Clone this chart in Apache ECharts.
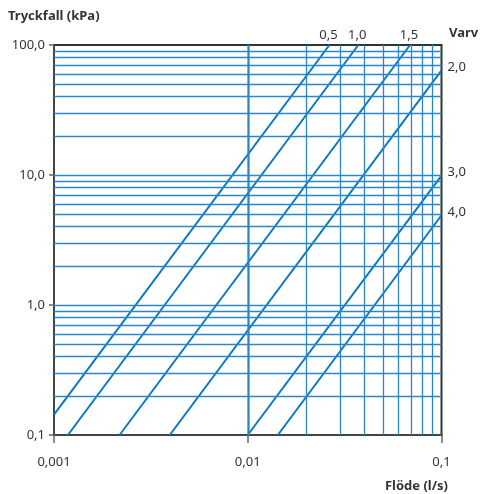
<!DOCTYPE html>
<html><head><meta charset="utf-8">
<script src="https://cdn.jsdelivr.net/npm/echarts@6/dist/echarts.min.js"></script>
<style>html,body{margin:0;padding:0;background:#fff}#c{width:480px;height:494px}</style>
</head><body><div id="c"></div>
<script>
// Curve names (Varv) and endpoints (flow l/s, pressure kPa)
const curveNames = ['0,5', '1,0', '1,5', '2,0', '3,0', '4,0'];
const curveFlow = [
  [0.001, 0.0264],
  [0.00118, 0.0372],
  [0.00218, 0.0688],
  [0.00396, 0.1],
  [0.01, 0.1],
  [0.0143, 0.1]
];
const curvePressure = [
  [0.1435, 100],
  [0.1, 100],
  [0.1, 100],
  [0.1, 63.8],
  [0.1, 9.9],
  [0.1, 4.9]
];
const labelSide = ['top', 'top', 'top', 'right', 'right', 'right'];

const xTickValues = [0.001, 0.01, 0.1];
const xTickLabels = ['0,001', '0,01', '0,1'];
const yTickValues = [0.1, 1, 10, 100];
const yTickLabels = ['0,1', '1,0', '10,0', '100,0'];
const multipliers = [1, 2, 3, 4, 5, 6, 7, 8, 9];

const FONT = 'Noto Sans';
const TXT = '#333';
const BLUE = '#0a78c2';
const GRIDBLUE = '#2a86c9';

function fmt(vals, labels) {
  return function (v) {
    const e = Math.round(Math.log10(v));
    for (let i = 0; i < vals.length; i++) {
      if (Math.round(Math.log10(vals[i])) === e) return labels[i];
    }
    return '';
  };
}

const gridLines = [];
for (let d = 0; d < xTickValues.length - 1; d++) {
  multipliers.forEach(m => { if (d > 0 || m > 1) gridLines.push({ xAxis: +(xTickValues[d] * m).toPrecision(6) }); });
}
for (let d = 0; d < yTickValues.length - 1; d++) {
  multipliers.forEach(m => { if (d > 0 || m > 1) gridLines.push({ yAxis: +(yTickValues[d] * m).toPrecision(6) }); });
}

const series = [{
  type: 'line', data: [], z: 1, silent: true,
  markLine: {
    silent: true, symbol: ['none', 'none'], label: { show: false },
    lineStyle: { color: GRIDBLUE, width: 1.3, type: 'solid' },
    emphasis: { disabled: true },
    animation: false,
    data: gridLines
  }
}];

curveNames.forEach((name, i) => {
  const pts = curveFlow[i].map((q, j) => [q, curvePressure[i][j]]);
  const last = pts.length - 1;
  series.push({
    type: 'line', name: name, z: 3,
    showSymbol: true, symbol: 'circle', symbolSize: 0.1,
    itemStyle: { color: BLUE },
    lineStyle: { color: BLUE, width: 2 },
    data: pts.map((p, j) => j === last ? {
      value: p,
      label: {
        show: true, position: labelSide[i], formatter: name,
        distance: labelSide[i] === 'top' ? 3 : 6,
        offset: labelSide[i] === 'top' ? [-1, 0] : [0, -3],
        color: TXT, fontFamily: FONT, fontSize: 13
      }
    } : { value: p, label: { show: false } }),
    animation: false
  });
});

const chart = echarts.init(document.getElementById('c'), null, { renderer: 'canvas' });
chart.setOption({
  animation: false,
  backgroundColor: '#fff',
  grid: { left: 54, right: 38.5, top: 45, bottom: 59, show: true, borderColor: '#333', borderWidth: 2, backgroundColor: 'transparent' },
  xAxis: {
    type: 'log', logBase: 10, min: 0.001, max: 0.1,
    axisLine: { show: true, lineStyle: { color: '#444', width: 2 } },
    axisTick: { show: true, inside: false, length: 8, lineStyle: { color: '#666', width: 1.5 } },
    axisLabel: { formatter: fmt(xTickValues, xTickLabels), color: TXT, fontFamily: FONT, fontSize: 13, margin: 21 },
    splitLine: { show: false },
    minorTick: { show: false }
  },
  yAxis: {
    type: 'log', logBase: 10, min: 0.1, max: 100,
    axisLine: { show: true, lineStyle: { color: '#444', width: 2 } },
    axisTick: { show: true, inside: false, length: 5, lineStyle: { color: '#666', width: 1.5 } },
    axisLabel: { formatter: fmt(yTickValues, yTickLabels), color: TXT, fontFamily: FONT, fontSize: 13, margin: 9 },
    splitLine: { show: false }
  },
  graphic: [
    { type: 'text', left: 8, top: 10, style: { text: 'Tryckfall (kPa)', fill: TXT, font: 'bold 13px "Noto Sans"' } },
    { type: 'text', left: 449, top: 27, style: { text: 'Varv', fill: TXT, font: 'bold 13px "Noto Sans"' } },
    { type: 'text', right: 32, top: 480, style: { text: 'Flöde (l/s)', fill: TXT, font: 'bold 13px "Noto Sans"' } }
  ],
  series: series
});
</script>
</body></html>
